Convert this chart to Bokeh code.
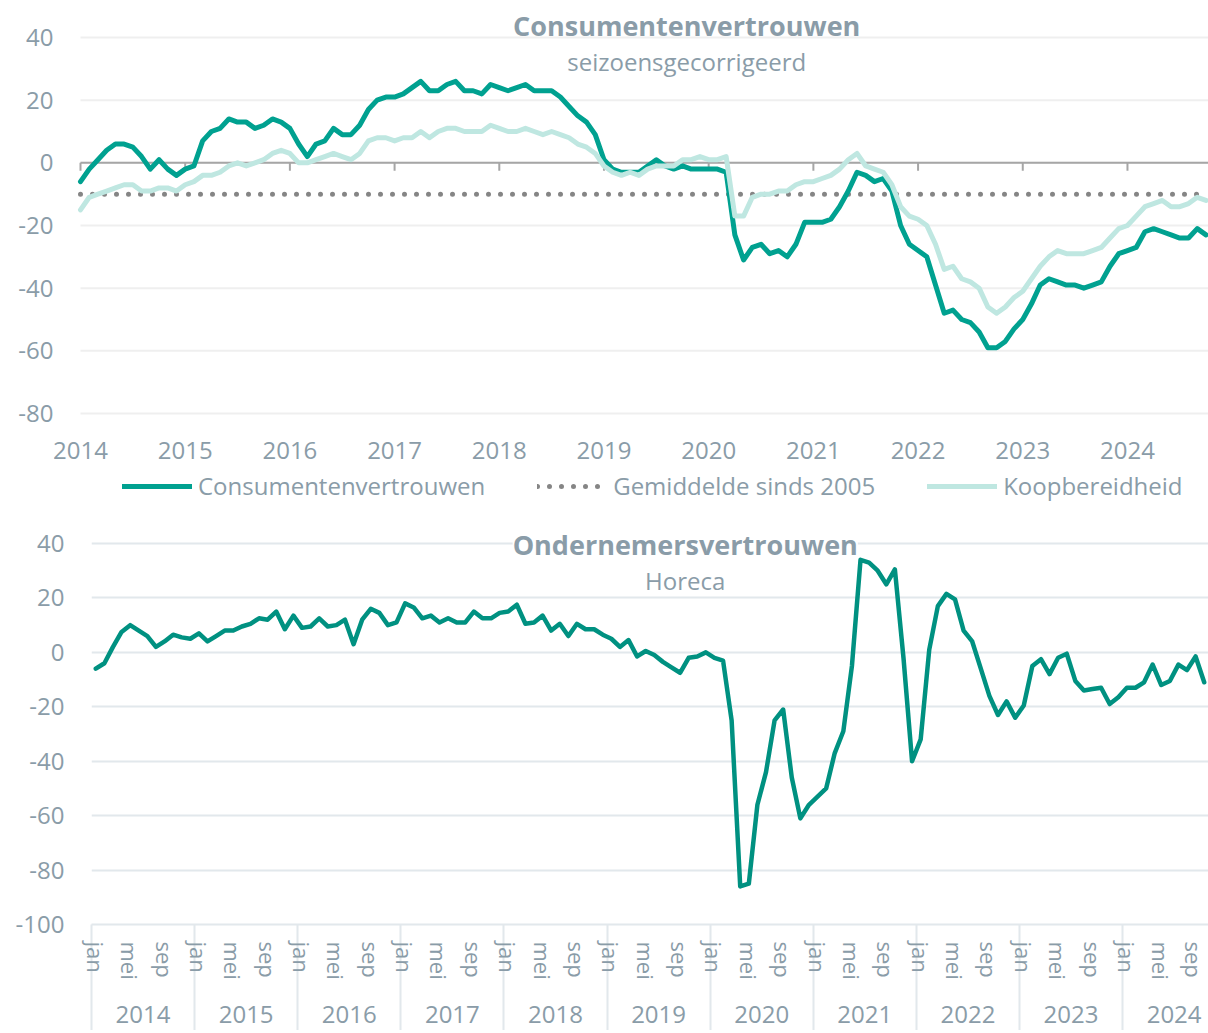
from bokeh.plotting import figure
from bokeh.models import (Range1d, FixedTicker, LinearAxis, Legend, LegendItem, Label)
from bokeh.layouts import column
from bokeh.embed import file_html
from bokeh.resources import INLINE

# ---------------- data ----------------
years = list(range(2014, 2025))
month_names = ["jan", "feb", "mrt", "apr", "mei", "jun", "jul", "aug", "sep", "okt", "nov", "dec"]
shown_months = ["jan", "mei", "sep"]
n_months = 130  # jan 2014 .. okt 2024

consumentenvertrouwen = [
    -6, -2, 1, 4, 6, 6, 5, 2, -2, 1, -2, -4,
    -2, -1, 7, 10, 11, 14, 13, 13, 11, 12, 14, 13,
    11, 6, 2, 6, 7, 11, 9, 9, 12, 17, 20, 21,
    21, 22, 24, 26, 23, 23, 25, 26, 23, 23, 22, 25,
    24, 23, 24, 25, 23, 23, 23, 21, 18, 15, 13, 9,
    1, -2, -3, -3, -3, -1, 1, -1, -2, -1, -2, -2,
    -2, -2, -3, -23, -31, -27, -26, -29, -28, -30, -26, -19,
    -19, -19, -18, -14, -9, -3, -4, -6, -5, -9, -20, -26,
    -28, -30, -39, -48, -47, -50, -51, -54, -59, -59, -57, -53,
    -50, -45, -39, -37, -38, -39, -39, -40, -39, -38, -33, -29,
    -28, -27, -22, -21, -22, -23, -24, -24, -21, -23,
]
koopbereidheid = [
    -15, -11, -10, -9, -8, -7, -7, -9, -9, -8, -8, -9,
    -7, -6, -4, -4, -3, -1, 0, -1, 0, 1, 3, 4,
    3, 0, 0, 1, 2, 3, 2, 1, 3, 7, 8, 8,
    7, 8, 8, 10, 8, 10, 11, 11, 10, 10, 10, 12,
    11, 10, 10, 11, 10, 9, 10, 9, 8, 6, 5, 3,
    -1, -3, -4, -3, -4, -2, -1, -1, -1, 1, 1, 2,
    1, 1, 2, -17, -17, -11, -10, -10, -9, -9, -7, -6,
    -6, -5, -4, -2, 1, 3, -1, -2, -3, -7, -14, -17,
    -18, -20, -26, -34, -33, -37, -38, -40, -46, -48, -46, -43,
    -41, -37, -33, -30, -28, -29, -29, -29, -28, -27, -24, -21,
    -20, -17, -14, -13, -12, -14, -14, -13, -11, -12,
]
gemiddelde_sinds_2005 = -10

horeca = [
    -6, -4, 2, 7.5, 10, 8, 6, 2, 4, 6.5, 5.5, 5,
    7, 4, 6, 8, 8, 9.5, 10.5, 12.5, 12, 15, 8.5, 13.5,
    9, 9.5, 12.5, 9.5, 10, 12, 3, 12, 16, 14.5, 10, 11,
    18, 16.5, 12.5, 13.5, 11, 12.5, 11, 11, 15, 12.5, 12.5, 14.5,
    15, 17.5, 10.5, 11, 13.5, 8, 10.5, 6, 10.5, 8.5, 8.5, 6.5,
    5, 2, 4.5, -1.5, 0.5, -1, -3.5, -5.5, -7.5, -2, -1.5, 0,
    -2, -3, -25, -86, -85, -56, -44, -25, -21, -46, -61, -56,
    -53, -50, -37, -29, -5, 34, 33, 30, 25, 30.5, -2, -40,
    -32, 1, 17, 21.5, 19.5, 8, 4, -6, -16, -23, -18, -24,
    -19.5, -5, -2.5, -8, -2, -0.5, -10.5, -14, -13.5, -13, -19, -16.5,
    -13, -13, -11, -4.5, -12, -10.5, -4.5, -6.5, -1.5, -11,
]

y_ticks_top = [-80, -60, -40, -20, 0, 20, 40]
y_labels_top = ["-80", "-60", "-40", "-20", "0", "20", "40"]
y_ticks_bottom = [-100, -80, -60, -40, -20, 0, 20, 40]
y_labels_bottom = ["-100", "-80", "-60", "-40", "-20", "0", "20", "40"]
year_labels = [str(y) for y in years]

title_top = "Consumentenvertrouwen"
subtitle_top = "seizoensgecorrigeerd"
title_bottom = "Ondernemersvertrouwen"
subtitle_bottom = "Horeca"

# ---------------- derived positions ----------------
t_dec = [years[0] + i / 12 for i in range(n_months)]          # decimal years (top)
idx = list(range(n_months))                                   # month index (bottom)
month_label = [month_names[i % 12] for i in idx]
avg_line = [gemiddelde_sinds_2005] * n_months

# ---------------- styles ----------------
FONT = "Open Sans"
TXT = "#8a9ca8"
DARK = "#00a190"
LIGHT = "#bfe7e1"
DOTS = "#858585"
ZERO = "#a6a6a6"
HOR = "#009181"
GRID_TOP = "#efefef"
GRID_BOT = "#e2e8ec"

W = 1208
H1 = 510
H2 = 520

# ================= top chart =================
# frame covers the whole figure height; plot area -80..40 sits at 37..413 px
k1 = (413 - 37) / 120.0
FL1 = 53                      # frame left (px); data area starts at 80 px
x_end = t_dec[-1] + 0.024
px_per_year = (W - 80) / (x_end - years[0])
x_start = years[0] - (80 - FL1) / px_per_year

p1 = figure(width=W, height=H1, output_backend="svg", toolbar_location=None,
            x_axis_location=None,
            x_range=Range1d(x_start, x_end),
            y_range=Range1d(-80 - (H1 - 413) / k1, 40 + 37 / k1))
p1.frame_align = False
p1.min_border_left = FL1
p1.min_border_right = 0
p1.min_border_top = 0
p1.min_border_bottom = 0
p1.outline_line_color = None
p1.background_fill_color = "white"
p1.border_fill_color = "white"
p1.xgrid.visible = False
p1.ygrid.visible = False

yax = p1.yaxis[0]
yax.ticker = FixedTicker(ticks=y_ticks_top)
yax.major_label_overrides = dict(zip(y_ticks_top, y_labels_top))
yax.axis_line_color = None
yax.major_tick_line_color = None
yax.minor_tick_line_color = None
yax.major_tick_out = 0
yax.major_tick_in = 0
yax.major_label_standoff = 0
yax.major_label_text_font = FONT
yax.major_label_text_font_size = "24px"
yax.major_label_text_color = TXT

xax = LinearAxis(fixed_location=y_ticks_top[0], ticker=FixedTicker(ticks=years),
                 major_label_overrides=dict(zip(years, year_labels)),
                 axis_line_color=None, major_tick_line_color=None, minor_tick_line_color=None,
                 major_tick_out=0, major_tick_in=0, major_label_standoff=28,
                 major_label_text_font=FONT, major_label_text_font_size="24px",
                 major_label_text_color=TXT)
p1.add_layout(xax, "below")

# horizontal grid lines across the data area only
n_t = len(y_ticks_top)
p1.segment(x0=[years[0]] * n_t, y0=y_ticks_top, x1=[x_end] * n_t, y1=y_ticks_top,
           line_color=GRID_TOP, line_width=2)
# zero line with year ticks
p1.segment(x0=[years[0]], y0=[0], x1=[x_end], y1=[0], line_color=ZERO, line_width=2)
p1.segment(x0=years, y0=[0] * len(years), x1=years, y1=[-2.5] * len(years),
           line_color=ZERO, line_width=2)

r_avg = p1.line(t_dec, avg_line, line_color=DOTS, line_width=5, line_dash="0 12", line_cap="round")
r_cons = p1.line(t_dec, consumentenvertrouwen, line_color=DARK, line_width=5, line_join="round", line_cap="round")
r_koop = p1.line(t_dec, koopbereidheid, line_color=LIGHT, line_width=5, line_join="round", line_cap="round")

legend = Legend(items=[LegendItem(label="Consumentenvertrouwen", renderers=[r_cons]),
                       LegendItem(label="Gemiddelde sinds 2005", renderers=[r_avg]),
                       LegendItem(label="Koopbereidheid", renderers=[r_koop])],
                orientation="horizontal", location=(122 - FL1, 8),
                glyph_width=70, glyph_height=28, label_height=28, label_standoff=6,
                spacing=52, padding=6, margin=0, border_line_color=None,
                background_fill_alpha=0, label_text_font=FONT, label_text_font_size="24px",
                label_text_color=TXT)
p1.add_layout(legend, "center")

p1.add_layout(Label(x=2019.79, y=40 + 12 / k1, text=title_top, text_align="center", text_baseline="middle",
                    text_font=FONT, text_font_size="27px", text_font_style="bold", text_color=TXT))
p1.add_layout(Label(x=2019.79, y=40 - 24 / k1, text=subtitle_top, text_align="center", text_baseline="middle",
                    text_font=FONT, text_font_size="24px", text_color=TXT))

# ================= bottom chart =================
# frame: top at figure top, -100 at 414 px below it, 40 at 33 px below it
k2 = (414 - 33) / 140.0
BOT2 = H2 - 414
p2 = figure(width=W, height=H2, output_backend="svg", toolbar_location=None,
            x_range=Range1d(-0.5, n_months - 0.5), y_range=Range1d(-100, 40 + 33 / k2))
p2.frame_align = False
p2.min_border_left = 91
p2.min_border_right = 0
p2.min_border_top = 0
p2.min_border_bottom = BOT2
p2.outline_line_color = None
p2.background_fill_color = "white"
p2.border_fill_color = "white"

p2.xgrid.visible = False
p2.ygrid.ticker = FixedTicker(ticks=y_ticks_bottom)
p2.ygrid.grid_line_color = GRID_BOT
p2.ygrid.grid_line_width = 2

yax2 = p2.yaxis[0]
yax2.ticker = FixedTicker(ticks=y_ticks_bottom)
yax2.major_label_overrides = dict(zip(y_ticks_bottom, y_labels_bottom))
yax2.axis_line_color = None
yax2.major_tick_line_color = None
yax2.minor_tick_line_color = None
yax2.major_tick_out = 0
yax2.major_tick_in = 0
yax2.major_label_standoff = 27
yax2.major_label_text_font = FONT
yax2.major_label_text_font_size = "24px"
yax2.major_label_text_color = TXT

month_ticks = [i for i in idx if month_label[i] in shown_months]
year_starts = [i - 0.5 for i in idx if i % 12 == 0]
year_mids = [i + 5.5 for i in idx if i % 12 == 0]

max_ = p2.xaxis[0]
max_.ticker = FixedTicker(ticks=month_ticks, minor_ticks=year_starts)
max_.major_label_overrides = {i: month_label[i] for i in month_ticks}
max_.major_label_orientation = "vertical"
max_.axis_line_color = GRID_BOT
max_.axis_line_width = 2
max_.major_tick_line_color = None
max_.major_tick_out = 0
max_.major_tick_in = 0
max_.minor_tick_line_color = GRID_BOT
max_.minor_tick_line_width = 2
max_.minor_tick_in = 0
max_.minor_tick_out = BOT2
max_.major_label_standoff = 17 - BOT2
max_.major_label_text_font = FONT
max_.major_label_text_font_size = "22px"
max_.major_label_text_color = TXT

yr_axis = LinearAxis(ticker=FixedTicker(ticks=year_mids),
                     major_label_overrides=dict(zip(year_mids, year_labels)),
                     axis_line_color=None, major_tick_line_color=None, minor_tick_line_color=None,
                     major_tick_out=0, major_tick_in=0, major_label_standoff=23,
                     major_label_text_font=FONT, major_label_text_font_size="24px",
                     major_label_text_color=TXT)
p2.add_layout(yr_axis, "below")

p2.line(idx, horeca, line_color=HOR, line_width=4.5, line_join="round", line_cap="round")

p2.add_layout(Label(x=68.6, y=40 - 1 / k2, text=title_bottom, text_align="center", text_baseline="middle",
                    text_font=FONT, text_font_size="27px", text_font_style="bold", text_color=TXT,
                    background_fill_color="white"))
p2.add_layout(Label(x=68.6, y=40 - 37 / k2, text=subtitle_bottom, text_align="center", text_baseline="middle",
                    text_font=FONT, text_font_size="24px", text_color=TXT))

layout = column(p1, p2)
open("out.html", "w").write(file_html(layout, INLINE))
